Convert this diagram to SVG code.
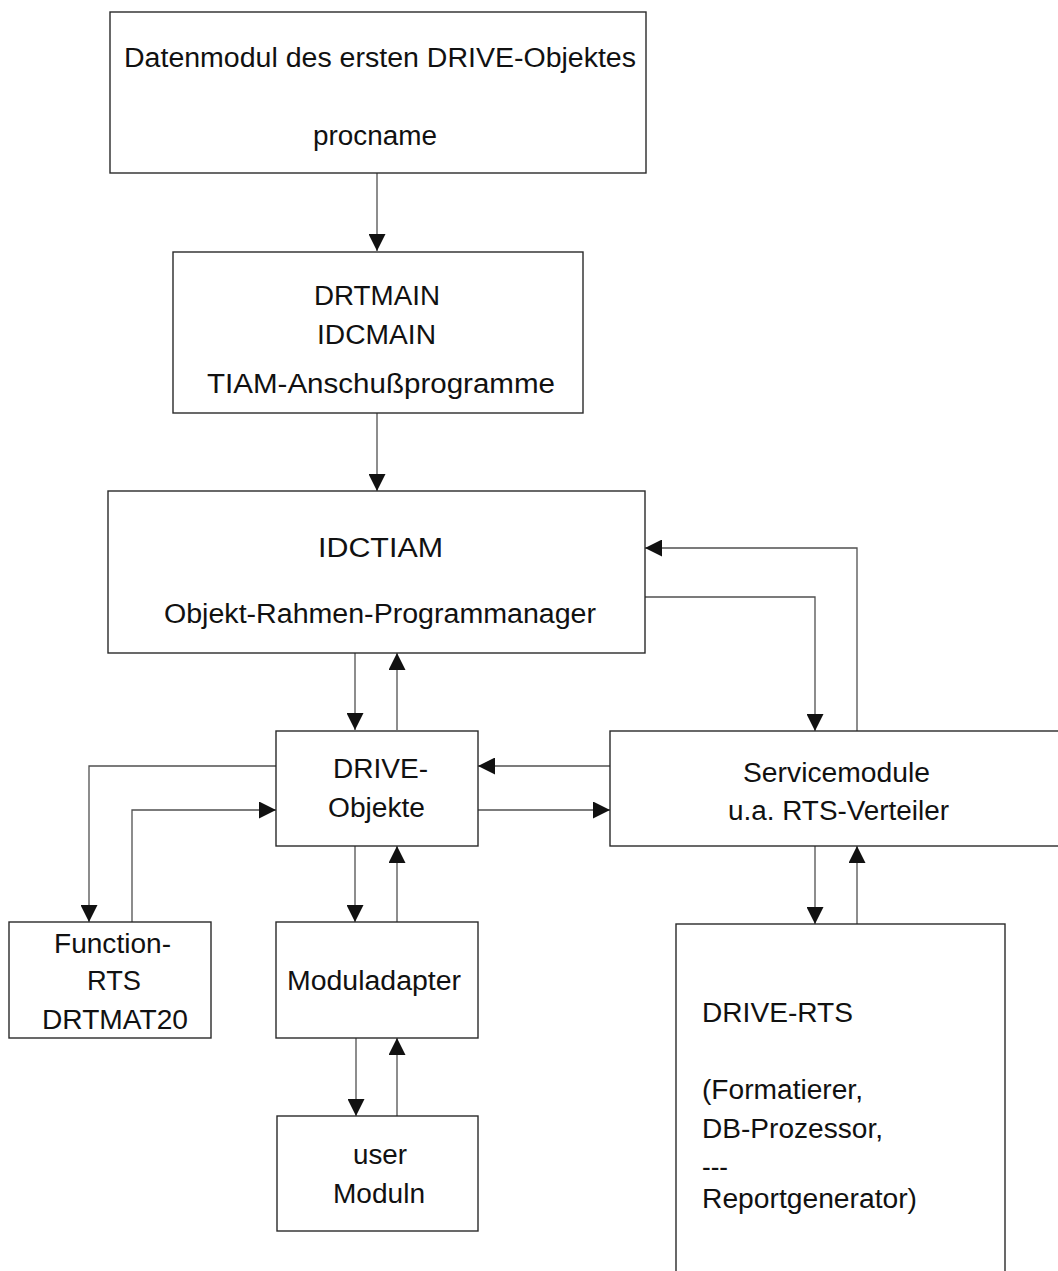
<svg xmlns="http://www.w3.org/2000/svg" width="1058" height="1271" viewBox="0 0 1058 1271">
<style>
.box{fill:#fff;stroke:#2a2a2a;stroke-width:1.4}
.t{font-family:"Liberation Sans",Arial,sans-serif;font-size:27px;fill:#111}
.c{fill:none;stroke:#505050;stroke-width:1.3}
</style>
<defs>
<marker id="ah" markerUnits="userSpaceOnUse" viewBox="0 0 17 17" markerWidth="17" markerHeight="17" refX="17" refY="8.5" orient="auto">
<path d="M0,0 L17,8.5 L0,17 z" fill="#111"/>
</marker>
</defs>
<rect width="1058" height="1271" fill="#fff"/>
<g id="connectors">
<path class="c" marker-end="url(#ah)" d="M377,173 V251"/>
<path class="c" marker-end="url(#ah)" d="M377,413 V491"/>
<path class="c" marker-end="url(#ah)" d="M355,653 V730"/>
<path class="c" marker-end="url(#ah)" d="M397,730 V653"/>
<path class="c" marker-end="url(#ah)" d="M857,731 V548 H645"/>
<path class="c" marker-end="url(#ah)" d="M645,597 H815 V731"/>
<path class="c" marker-end="url(#ah)" d="M610,766 H478"/>
<path class="c" marker-end="url(#ah)" d="M478,810 H610"/>
<path class="c" marker-end="url(#ah)" d="M276,766 H89 V922"/>
<path class="c" marker-end="url(#ah)" d="M132,922 V810 H276"/>
<path class="c" marker-end="url(#ah)" d="M355,846 V922"/>
<path class="c" marker-end="url(#ah)" d="M397,922 V846"/>
<path class="c" marker-end="url(#ah)" d="M356,1038 V1116"/>
<path class="c" marker-end="url(#ah)" d="M397,1116 V1038"/>
<path class="c" marker-end="url(#ah)" d="M815,846 V924"/>
<path class="c" marker-end="url(#ah)" d="M857,924 V846"/>
</g>
<g id="datenmodul">
<rect class="box" x="110" y="12" width="536" height="161"/>
<text class="t" x="124" y="67" textLength="512" lengthAdjust="spacingAndGlyphs">Datenmodul des ersten DRIVE-Objektes</text>
<text class="t" x="313" y="145" textLength="124" lengthAdjust="spacingAndGlyphs">procname</text>
</g>
<g id="drtmain">
<rect class="box" x="173" y="252" width="410" height="161"/>
<text class="t" x="314" y="305" textLength="126" lengthAdjust="spacingAndGlyphs">DRTMAIN</text>
<text class="t" x="317" y="344" textLength="119" lengthAdjust="spacingAndGlyphs">IDCMAIN</text>
<text class="t" x="207" y="393" textLength="348" lengthAdjust="spacingAndGlyphs">TIAM-Anschußprogramme</text>
</g>
<g id="idctiam">
<rect class="box" x="108" y="491" width="537" height="162"/>
<text class="t" x="318" y="557" textLength="125" lengthAdjust="spacingAndGlyphs">IDCTIAM</text>
<text class="t" x="164" y="623" textLength="432" lengthAdjust="spacingAndGlyphs">Objekt-Rahmen-Programmanager</text>
</g>
<g id="drive-objekte">
<rect class="box" x="276" y="731" width="202" height="115"/>
<text class="t" x="333" y="778" textLength="95" lengthAdjust="spacingAndGlyphs">DRIVE-</text>
<text class="t" x="328" y="817" textLength="97" lengthAdjust="spacingAndGlyphs">Objekte</text>
</g>
<g id="servicemodule">
<rect class="box" x="610" y="731" width="460" height="115"/>
<text class="t" x="743" y="782" textLength="187" lengthAdjust="spacingAndGlyphs">Servicemodule</text>
<text class="t" x="728" y="820" textLength="221" lengthAdjust="spacingAndGlyphs">u.a. RTS-Verteiler</text>
</g>
<g id="function-rts">
<rect class="box" x="9" y="922" width="202" height="116"/>
<text class="t" x="54" y="953" textLength="117" lengthAdjust="spacingAndGlyphs">Function-</text>
<text class="t" x="87" y="990" textLength="54" lengthAdjust="spacingAndGlyphs">RTS</text>
<text class="t" x="42" y="1029" textLength="146" lengthAdjust="spacingAndGlyphs">DRTMAT20</text>
</g>
<g id="moduladapter">
<rect class="box" x="276" y="922" width="202" height="116"/>
<text class="t" x="287" y="990" textLength="174" lengthAdjust="spacingAndGlyphs">Moduladapter</text>
</g>
<g id="user-moduln">
<rect class="box" x="277" y="1116" width="201" height="115"/>
<text class="t" x="353" y="1164" textLength="54" lengthAdjust="spacingAndGlyphs">user</text>
<text class="t" x="333" y="1203" textLength="92" lengthAdjust="spacingAndGlyphs">Moduln</text>
</g>
<g id="drive-rts">
<rect class="box" x="676" y="924" width="329" height="380"/>
<text class="t" x="702" y="1022" textLength="151" lengthAdjust="spacingAndGlyphs">DRIVE-RTS</text>
<text class="t" x="702" y="1099" textLength="161" lengthAdjust="spacingAndGlyphs">(Formatierer,</text>
<text class="t" x="702" y="1138" textLength="181" lengthAdjust="spacingAndGlyphs">DB-Prozessor,</text>
<text class="t" x="702" y="1176" textLength="26" lengthAdjust="spacingAndGlyphs">---</text>
<text class="t" x="702" y="1208" textLength="215" lengthAdjust="spacingAndGlyphs">Reportgenerator)</text>
</g>
</svg>
